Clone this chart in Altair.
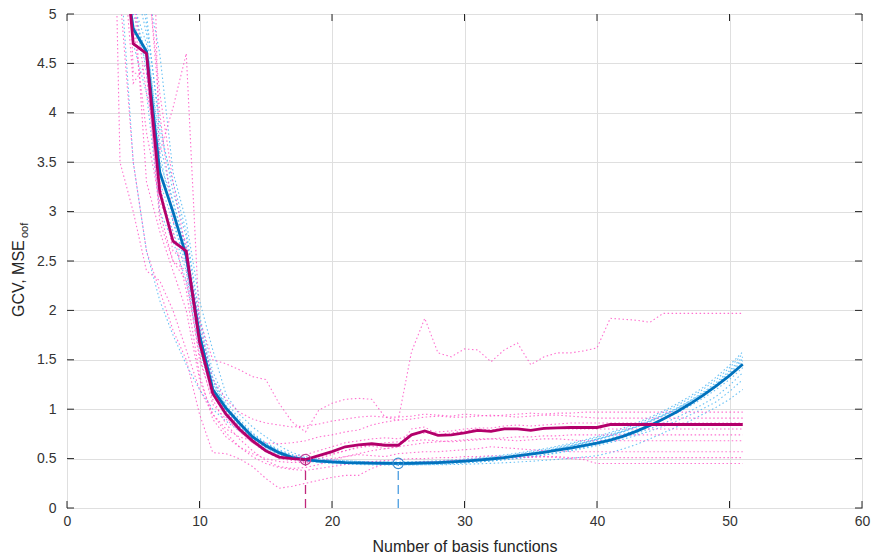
import altair as alt
import pandas as pd

# ---------------- data ----------------
x_vals = list(range(3, 52))

gcv_mean = [12, 5.73, 4.85, 4.62, 3.40, 3.00, 2.55, 1.75, 1.20, 1.01,
            0.86, 0.72, 0.63, 0.56, 0.51, 0.49, 0.475, 0.466, 0.46, 0.457, 0.455, 0.453,
            0.452, 0.453, 0.456, 0.46, 0.466, 0.474, 0.484, 0.496, 0.51, 0.527, 0.545, 0.564,
            0.585, 0.607, 0.631, 0.657, 0.688, 0.727, 0.778, 0.836, 0.900, 0.972, 1.052,
            1.140, 1.236, 1.340, 1.455]

mse_mean = [12, 6.2, 4.70, 4.60, 3.20, 2.70, 2.60, 1.68, 1.16, 0.95,
            0.80, 0.68, 0.58, 0.515, 0.50, 0.49, 0.53, 0.57, 0.62, 0.64, 0.65, 0.635,
            0.635, 0.74, 0.78, 0.735, 0.74, 0.76, 0.785, 0.775, 0.80, 0.80, 0.785, 0.805,
            0.81, 0.815, 0.815, 0.815, 0.845, 0.845, 0.845, 0.845, 0.845, 0.845, 0.845,
            0.845, 0.845, 0.845, 0.845]

gcv_c1 = [13, 7.2, 5.6, 5.0, 3.8, 3.3, 2.8, 1.95, 1.38, 1.08,
          0.90, 0.76, 0.66, 0.59, 0.54, 0.51, 0.495, 0.485, 0.478, 0.472, 0.468, 0.466,
          0.466, 0.468, 0.472, 0.478, 0.486, 0.496, 0.508, 0.522, 0.538, 0.556, 0.577, 0.600,
          0.626, 0.655, 0.688, 0.724, 0.765, 0.811, 0.862, 0.919, 0.982, 1.052, 1.13, 1.22,
          1.325, 1.445, 1.58]
gcv_c2 = [11, 6.0, 4.9, 4.5, 3.3, 2.9, 2.45, 1.7, 1.22, 0.98,
          0.83, 0.71, 0.62, 0.56, 0.52, 0.50, 0.485, 0.475, 0.468, 0.463, 0.46, 0.458,
          0.458, 0.46, 0.464, 0.470, 0.478, 0.488, 0.50, 0.514, 0.53, 0.548, 0.568, 0.591,
          0.616, 0.645, 0.677, 0.713, 0.753, 0.798, 0.848, 0.904, 0.966, 1.035, 1.111, 1.20,
          1.30, 1.42, 1.56]
gcv_c3 = [10, 5.5, 3.5, 2.6, 2.1, 1.75, 1.45, 1.2, 1.0, 0.88,
          0.78, 0.68, 0.60, 0.54, 0.50, 0.475, 0.46, 0.45, 0.444, 0.44, 0.437, 0.435,
          0.435, 0.436, 0.438, 0.442, 0.448, 0.456, 0.465, 0.476, 0.489, 0.504, 0.521, 0.540,
          0.561, 0.585, 0.612, 0.642, 0.676, 0.714, 0.756, 0.803, 0.856, 0.915, 0.98, 1.05,
          1.13, 1.24, 1.37]
gcv_c4 = [14, 8.0, 6.0, 5.3, 4.6, 3.4, 2.9, 2.1, 1.6, 1.15,
          0.95, 0.82, 0.72, 0.63, 0.56, 0.52, 0.50, 0.488, 0.478, 0.47, 0.462, 0.452,
          0.44, 0.438, 0.437, 0.438, 0.44, 0.443, 0.447, 0.452, 0.458, 0.465, 0.473, 0.482,
          0.492, 0.503, 0.516, 0.530, 0.560, 0.60, 0.645, 0.70, 0.76, 0.82, 0.88, 0.95,
          1.02, 1.10, 1.20]
gcv_c5 = [12, 6.5, 5.0, 4.6, 3.5, 3.1, 2.6, 1.8, 1.28, 1.0,
          0.85, 0.72, 0.63, 0.56, 0.51, 0.485, 0.47, 0.46, 0.453, 0.448, 0.445, 0.443,
          0.442, 0.442, 0.444, 0.447, 0.452, 0.458, 0.466, 0.476, 0.488, 0.502, 0.518, 0.536,
          0.556, 0.578, 0.603, 0.631, 0.662, 0.697, 0.736, 0.779, 0.827, 0.88, 0.94, 1.005,
          1.075, 1.18, 1.30]
gcv_c6 = [12, 6.8, 5.2, 4.4, 3.2, 2.8, 2.4, 1.65, 1.2, 0.96,
          0.82, 0.70, 0.62, 0.555, 0.51, 0.49, 0.475, 0.466, 0.46, 0.455, 0.452, 0.45,
          0.449, 0.45, 0.452, 0.456, 0.462, 0.47, 0.48, 0.492, 0.506, 0.522, 0.54, 0.561,
          0.584, 0.61, 0.639, 0.671, 0.707, 0.747, 0.792, 0.842, 0.898, 0.96, 1.03, 1.11,
          1.20, 1.30, 1.42]
gcv_c7 = [13, 7.0, 5.4, 4.8, 3.6, 2.9, 2.5, 1.75, 1.25, 1.02,
          0.87, 0.74, 0.65, 0.575, 0.525, 0.50, 0.482, 0.472, 0.466, 0.461, 0.458, 0.456,
          0.455, 0.456, 0.459, 0.464, 0.471, 0.48, 0.491, 0.504, 0.519, 0.537, 0.557, 0.579,
          0.604, 0.632, 0.663, 0.698, 0.737, 0.781, 0.829, 0.883, 0.943, 1.01, 1.085, 1.17,
          1.27, 1.39, 1.53]
gcv_c8 = [11, 6.2, 4.7, 4.2, 3.0, 2.7, 2.3, 1.6, 1.15, 0.93,
          0.80, 0.69, 0.61, 0.55, 0.505, 0.48, 0.466, 0.457, 0.451, 0.447, 0.444, 0.442,
          0.441, 0.442, 0.445, 0.45, 0.457, 0.466, 0.477, 0.49, 0.505, 0.523, 0.543, 0.566,
          0.592, 0.62, 0.652, 0.688, 0.728, 0.772, 0.821, 0.875, 0.935, 1.0, 1.075, 1.155,
          1.245, 1.36, 1.49]
gcv_c9 = [12, 6.6, 5.1, 4.7, 3.7, 3.1, 2.65, 1.85, 1.32, 1.04,
          0.88, 0.75, 0.655, 0.58, 0.53, 0.50, 0.48, 0.47, 0.462, 0.456, 0.452, 0.45,
          0.449, 0.45, 0.453, 0.458, 0.465, 0.474, 0.485, 0.498, 0.513, 0.53, 0.55, 0.572,
          0.597, 0.625, 0.656, 0.691, 0.73, 0.773, 0.821, 0.874, 0.932, 0.996, 1.066, 1.145,
          1.23, 1.34, 1.46]
gcv_c10 = [13, 7.5, 5.7, 4.9, 3.9, 3.2, 2.75, 1.9, 1.30, 1.02,
           0.86, 0.735, 0.645, 0.575, 0.525, 0.497, 0.48, 0.47, 0.463, 0.458, 0.455, 0.453,
           0.452, 0.453, 0.456, 0.461, 0.468, 0.477, 0.488, 0.501, 0.516, 0.534, 0.554, 0.577,
           0.602, 0.63, 0.662, 0.697, 0.736, 0.78, 0.829, 0.883, 0.942, 1.008, 1.082, 1.163,
           1.255, 1.375, 1.51]

mse_p1 = [14, 7.5, 5.6, 5.5, 4.2, 3.3, 2.6, 1.9, 1.50, 1.46,
          1.40, 1.33, 1.30, 1.06, 0.87, 0.77, 0.99, 1.06, 1.10, 1.11, 1.10, 0.92,
          0.89, 1.58, 1.92, 1.57, 1.53, 1.61, 1.60, 1.48, 1.60, 1.67, 1.45, 1.53, 1.57, 1.57,
          1.59, 1.62, 1.92, 1.91, 1.90, 1.88, 1.97, 1.97, 1.97, 1.97, 1.97, 1.97, 1.97]
mse_p2 = [12, 6.5, 5.2, 4.2, 3.6, 4.05, 4.6, 1.85, 1.30, 1.10,
          0.97, 0.90, 0.86, 0.84, 0.82, 0.83, 0.85, 0.88, 0.90, 0.92, 0.93, 0.92,
          0.92, 0.93, 0.95, 0.94, 0.93, 0.95, 0.94, 0.93, 0.94, 0.95, 0.96, 0.95, 0.96, 0.96,
          0.97, 0.97, 0.97, 0.97, 0.97, 0.97, 0.97, 0.97, 0.97, 0.97, 0.97, 0.97, 0.97]
mse_p3 = [10, 3.5, 3.0, 2.4, 2.3, 2.0, 1.6, 1.2, 0.95, 0.80,
          0.72, 0.68, 0.66, 0.65, 0.66, 0.68, 0.72, 0.74, 0.77, 0.79, 0.84, 0.87,
          0.89, 0.90, 0.92, 0.93, 0.92, 0.92, 0.93, 0.94, 0.93, 0.92, 0.93, 0.94, 0.94, 0.93,
          0.92, 0.91, 0.91, 0.91, 0.91, 0.91, 0.91, 0.91, 0.91, 0.91, 0.91, 0.91, 0.91]
mse_p4 = [16, 8.0, 4.4, 4.4, 3.0, 2.5, 2.3, 1.55, 1.05, 0.90,
          0.78, 0.66, 0.58, 0.53, 0.52, 0.54, 0.58, 0.62, 0.66, 0.68, 0.70, 0.71,
          0.70, 0.74, 0.76, 0.77, 0.78, 0.80, 0.81, 0.81, 0.83, 0.84, 0.83, 0.84, 0.85, 0.86,
          0.86, 0.86, 0.86, 0.86, 0.86, 0.86, 0.86, 0.86, 0.86, 0.86, 0.86, 0.86, 0.86]
mse_p5 = [13, 6.0, 4.3, 4.5, 2.9, 2.5, 2.4, 1.5, 1.1, 0.85,
          0.70, 0.58, 0.48, 0.42, 0.40, 0.41, 0.44, 0.48, 0.52, 0.55, 0.58, 0.60,
          0.62, 0.64, 0.66, 0.67, 0.68, 0.69, 0.70, 0.70, 0.71, 0.72, 0.72, 0.73, 0.73, 0.74,
          0.74, 0.74, 0.74, 0.74, 0.74, 0.74, 0.74, 0.74, 0.74, 0.74, 0.74, 0.74, 0.74]
mse_p6 = [11, 7.0, 5.6, 5.6, 4.0, 2.9, 2.7, 1.7, 1.2, 0.98,
          0.82, 0.70, 0.62, 0.55, 0.52, 0.50, 0.52, 0.55, 0.58, 0.62, 0.64, 0.66,
          0.67, 0.68, 0.69, 0.68, 0.67, 0.68, 0.69, 0.70, 0.69, 0.68, 0.69, 0.70, 0.70, 0.69,
          0.68, 0.68, 0.68, 0.68, 0.68, 0.68, 0.68, 0.68, 0.68, 0.68, 0.68, 0.68, 0.68]
mse_p7 = [12, 6.5, 4.9, 3.8, 3.1, 2.8, 2.2, 1.35, 0.90, 0.72,
          0.62, 0.55, 0.50, 0.47, 0.46, 0.46, 0.48, 0.50, 0.52, 0.54, 0.53, 0.52,
          0.55, 0.56, 0.57, 0.57, 0.58, 0.59, 0.60, 0.62, 0.61, 0.60, 0.59, 0.58, 0.58, 0.57,
          0.57, 0.57, 0.57, 0.57, 0.57, 0.57, 0.57, 0.57, 0.57, 0.57, 0.57, 0.57, 0.57]
mse_p8 = [15, 7.0, 5.3, 3.3, 2.8, 2.4, 2.0, 1.3, 0.95, 0.76,
          0.62, 0.52, 0.45, 0.41, 0.39, 0.38, 0.40, 0.42, 0.44, 0.46, 0.47, 0.48,
          0.49, 0.50, 0.50, 0.51, 0.51, 0.52, 0.52, 0.53, 0.52, 0.52, 0.51, 0.52, 0.52, 0.51,
          0.51, 0.51, 0.51, 0.51, 0.51, 0.51, 0.51, 0.51, 0.51, 0.51, 0.51, 0.51, 0.51]
mse_p9 = [9, 5.2, 3.5, 2.6, 2.2, 1.8, 1.5, 0.95, 0.56, 0.55,
          0.50, 0.42, 0.30, 0.20, 0.22, 0.25, 0.28, 0.31, 0.33, 0.33, 0.40, 0.45,
          0.46, 0.46, 0.47, 0.47, 0.48, 0.49, 0.50, 0.50, 0.51, 0.51, 0.52, 0.52, 0.51, 0.50,
          0.49, 0.45, 0.45, 0.45, 0.45, 0.45, 0.45, 0.45, 0.45, 0.45, 0.45, 0.45, 0.45]
mse_p10 = [20, 9.0, 5.8, 9.0, 3.3, 2.6, 2.5, 1.65, 1.15, 0.92,
           0.78, 0.66, 0.57, 0.50, 0.48, 0.47, 0.50, 0.54, 0.58, 0.61, 0.63, 0.60,
           0.62, 0.80, 0.82, 0.74, 0.76, 0.78, 0.80, 0.79, 0.81, 0.80, 0.79, 0.80, 0.81, 0.80,
           0.80, 0.80, 0.80, 0.80, 0.80, 0.80, 0.80, 0.80, 0.80, 0.80, 0.80, 0.80, 0.80]

gcv_folds = [gcv_c1, gcv_c2, gcv_c3, gcv_c4, gcv_c5, gcv_c6, gcv_c7, gcv_c8, gcv_c9, gcv_c10]
mse_folds = [mse_p1, mse_p2, mse_p3, mse_p4, mse_p5, mse_p6, mse_p7, mse_p8, mse_p9, mse_p10]

min_gcv_x = [25]
min_gcv_y = [0.452]
min_mse_x = [18]
min_mse_y = [0.49]

x_ticks = [0, 10, 20, 30, 40, 50, 60]
y_ticks = [0, 0.5, 1, 1.5, 2, 2.5, 3, 3.5, 4, 4.5, 5]

x_title = "Number of basis functions"
y_title_main = "GCV, MSE"
y_title_sub = "oof"

for s in gcv_folds + mse_folds + [gcv_mean, mse_mean]:
    assert len(s) == len(x_vals), len(s)

# ---------------- tables ----------------
def folds_df(folds, prefix):
    rows = []
    for i, f in enumerate(folds):
        for xv, yv in zip(x_vals, f):
            rows.append({"fold": f"{prefix}{i}", "x": xv, "y": yv})
    return pd.DataFrame(rows)

df_c = folds_df(gcv_folds, "c")
df_p = folds_df(mse_folds, "p")
df_gm = pd.DataFrame({"x": x_vals, "y": gcv_mean})
df_mm = pd.DataFrame({"x": x_vals, "y": mse_mean})
df_gmin = pd.DataFrame({"x": min_gcv_x, "y": min_gcv_y, "y0": [0] * len(min_gcv_x)})
df_mmin = pd.DataFrame({"x": min_mse_x, "y": min_mse_y, "y0": [0] * len(min_mse_x)})

# ---------------- styling ----------------
FONT = "Liberation Sans"
TXT = "#262626"
W, H = 795, 494

xs = alt.Scale(domain=[0, 60], nice=False, zero=False)
ys = alt.Scale(domain=[0, 5], nice=False, zero=False)

ax_x = alt.Axis(values=x_ticks, grid=True, gridColor="#dfdfdf", gridWidth=1, ticks=False,
                domain=False, labelFont=FONT, labelFontSize=14, labelColor="#333333",
                labelPadding=6, labelFlush=False, format="d", title=x_title,
                titleFont=FONT, titleFontSize=16, titleFontWeight="normal", titleColor=TXT,
                titlePadding=10)
ax_y = alt.Axis(values=y_ticks, grid=True, gridColor="#dfdfdf", gridWidth=1, ticks=False,
                domain=False, labelFont=FONT, labelFontSize=14, labelColor="#333333",
                labelPadding=11, labelFlush=False, format="~g", title=None)

X = alt.X("x:Q", scale=xs, axis=ax_x)
Y = alt.Y("y:Q", scale=ys, axis=ax_y)

cyan_lines = alt.Chart(df_c).mark_line(
    color="#45b3f2", strokeWidth=1.1, strokeDash=[1.5, 2.5], opacity=0.8, clip=True
).encode(x=X, y=Y, detail="fold:N")

pink_lines = alt.Chart(df_p).mark_line(
    color="#ff4dc4", strokeWidth=1.1, strokeDash=[1.5, 2.5], opacity=0.8, clip=True
).encode(x=X, y=Y, detail="fold:N")

gcv_line = alt.Chart(df_gm).mark_line(color="#0072BD", strokeWidth=2.8, clip=True).encode(x=X, y=Y)
mse_line = alt.Chart(df_mm).mark_line(color="#b3006b", strokeWidth=2.8, clip=True).encode(x=X, y=Y)

gcv_rule = alt.Chart(df_gmin).mark_rule(color="#4a9de0", strokeWidth=1.3, strokeDash=[9, 5]).encode(
    x=X, y=alt.Y("y0:Q", scale=ys, axis=ax_y), y2="y:Q")
mse_rule = alt.Chart(df_mmin).mark_rule(color="#c0287c", strokeWidth=1.3, strokeDash=[9, 5]).encode(
    x=X, y=alt.Y("y0:Q", scale=ys, axis=ax_y), y2="y:Q")

gcv_pt = alt.Chart(df_gmin).mark_point(shape="circle", filled=False, size=110, strokeWidth=1.2,
                                        color="#3d8fd0", opacity=1).encode(x=X, y=Y)
mse_pt = alt.Chart(df_mmin).mark_point(shape="circle", filled=False, size=110, strokeWidth=1.2,
                                        color="#c4409a", opacity=1).encode(x=X, y=Y)

df_xt = pd.DataFrame({"x": x_ticks})
df_yt = pd.DataFrame({"y": y_ticks})
tick_b = alt.Chart(df_xt).mark_rule(color=TXT, strokeWidth=1).encode(x=X, y=alt.value(H), y2=alt.value(H - 7))
tick_t = alt.Chart(df_xt).mark_rule(color=TXT, strokeWidth=1).encode(x=X, y=alt.value(0), y2=alt.value(7))
tick_l = alt.Chart(df_yt).mark_rule(color=TXT, strokeWidth=1).encode(y=Y, x=alt.value(0), x2=alt.value(7))
tick_r = alt.Chart(df_yt).mark_rule(color=TXT, strokeWidth=1).encode(y=Y, x=alt.value(W), x2=alt.value(W - 7))

ytitle_main = alt.Chart(pd.DataFrame({"t": [y_title_main]})).mark_text(
    angle=270, align="left", baseline="alphabetic", font=FONT, fontSize=16, color=TXT
).encode(x=alt.value(-43), y=alt.value(303), text="t:N")
ytitle_sub = alt.Chart(pd.DataFrame({"t": [y_title_sub]})).mark_text(
    angle=270, align="left", baseline="alphabetic", font=FONT, fontSize=11, color=TXT
).encode(x=alt.value(-39), y=alt.value(224), text="t:N")

chart = alt.layer(
    cyan_lines, pink_lines, gcv_line, mse_line, gcv_rule, mse_rule, gcv_pt, mse_pt,
    tick_b, tick_t, tick_l, tick_r, ytitle_main, ytitle_sub
).properties(
    width=W, height=H,
    padding={"left": 67, "top": 14, "right": 12, "bottom": 48},
    autosize=alt.AutoSizeParams(type="none"),
    background="white",
).configure_view(stroke=TXT, strokeWidth=1)

chart.save("out.html", embed_options={"renderer": "svg", "actions": False})
